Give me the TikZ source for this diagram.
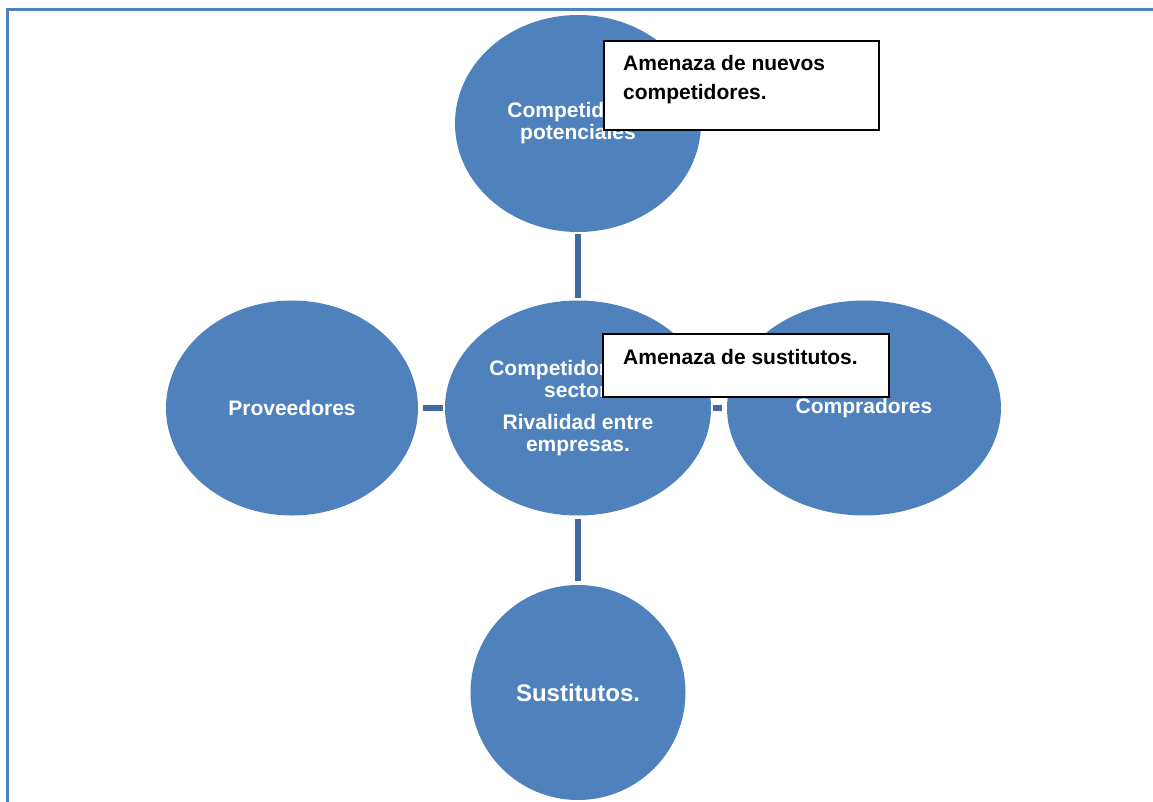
\documentclass[tikz,border=0pt]{standalone}
\usepackage{fontspec}
\setmainfont{Liberation Sans}
\usetikzlibrary{shapes.geometric}
\definecolor{bubble}{RGB}{79,129,189}
\definecolor{link}{RGB}{65,106,158}
\definecolor{frameblue}{RGB}{79,129,189}
\tikzset{
  force/.style={ellipse, fill=bubble, draw=none, inner sep=0pt, text=white,
    font=\bfseries\fontsize{21}{22}\selectfont, align=center},
  tie/.style={draw=link, line width=5.5pt},
  threatbox/.style={rectangle, draw=black, line width=1.8pt, fill=white,
    inner sep=0pt, anchor=north west},
  threattext/.style={font=\bfseries\fontsize{21}{29}\selectfont, align=left,
    anchor=base west, inner sep=0pt}
}
\begin{document}
\begin{tikzpicture}[x=1pt,y=-1pt]
  \useasboundingbox (0,0) rectangle (1153,802);
  % page frame
  \draw[frameblue, line width=2.5pt] (1153,9.5) -- (7.5,9.5) -- (7.5,802);

  % the five forces
  \node[force, minimum width=246pt, minimum height=217pt] (pot) at (578,123.5)
    {Competidores\\potenciales};
  \node[force, minimum width=266pt, minimum height=215pt] (sec) at (578,408)
    {Competidores del\\sector.\\[10pt]Rivalidad entre\\empresas.};
  \node[force, minimum width=252pt, minimum height=215pt] (prov) at (292,408)
    {Proveedores};
  \node[force, minimum width=274pt, minimum height=215pt] (comp) at (864,408)
    {Compradores};
  \node[force, minimum width=215pt, minimum height=215pt,
        font=\bfseries\fontsize{24}{26}\selectfont] (sust) at (578,692.5)
    {Sustitutos.};

  % links between the forces
  \draw[tie, shorten <=2pt, shorten >=2pt] (pot) -- (sec);
  \draw[tie, shorten <=4.5pt, shorten >=2pt] (prov) -- (sec);
  \draw[tie, shorten <=2pt, shorten >=5pt] (sec) -- (comp);
  \draw[tie, shorten <=3pt, shorten >=4pt] (sec) -- (sust);

  % threat call-outs (text anchored on the baseline of its last line)
  \node[threatbox, minimum width=275pt, minimum height=89pt] (tnew) at (603,40) {};
  \node[threattext] (tnewtxt) at (623,99.5) {Amenaza de nuevos\\competidores.};
  \node[threatbox, minimum width=286pt, minimum height=63pt] (tsub) at (602,333) {};
  \node[threattext] (tsubtxt) at (623,364) {Amenaza de sustitutos.};
\end{tikzpicture}
\end{document}
